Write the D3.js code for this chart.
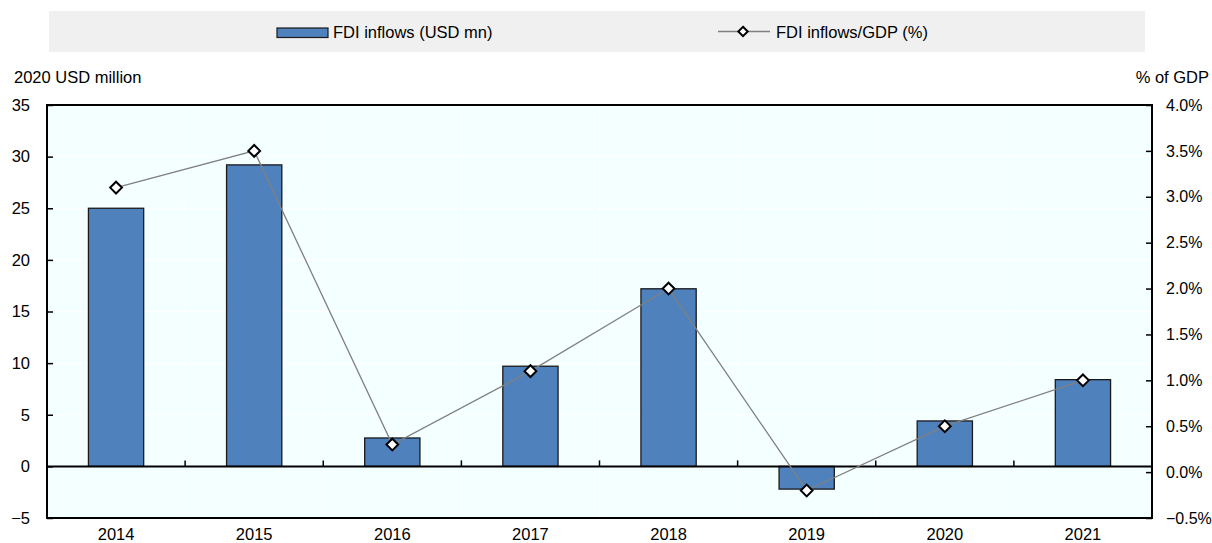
<!DOCTYPE html>
<html>
<head>
<meta charset="utf-8">
<script src="https://cdn.jsdelivr.net/npm/d3@7"></script>
<style>
  html, body { margin: 0; padding: 0; background: #fff; }
  svg text { font-family: "Liberation Sans", Arial, sans-serif; fill: #000; }
</style>
</head>
<body>
<svg id="chart" width="1212" height="543"></svg>
<script>
// FDI inflows, 2014-2021
const years = ["2014", "2015", "2016", "2017", "2018", "2019", "2020", "2021"];
const fdiUsd = [25.0, 29.2, 2.75, 9.7, 17.2, -2.2, 4.4, 8.4];      // 2020 USD million
const fdiGdp = [3.1, 3.5, 0.3, 1.1, 2.0, -0.2, 0.5, 1.0];           // % of GDP
const leftTicks = [-5, 0, 5, 10, 15, 20, 25, 30, 35];
const rightTicks = [-0.5, 0, 0.5, 1.0, 1.5, 2.0, 2.5, 3.0, 3.5, 4.0];
const seriesNames = ["FDI inflows (USD mn)", "FDI inflows/GDP (%)"];

const FONT = "Liberation Sans, Arial, sans-serif";
const FS = 16.5;

const svg = d3.select("#chart");
const plot = { left: 47, right: 1152, top: 105, bottom: 518 };

const x = d3.scaleBand().domain(years).range([plot.left, plot.right]).padding(0);
const yL = d3.scaleLinear().domain([-5, 35]).range([plot.bottom, plot.top]);
const yR = d3.scaleLinear().domain([-0.5, 4.0]).range([plot.bottom, plot.top]);

// legend strip
svg.append("rect").attr("x", 49).attr("y", 11).attr("width", 1096).attr("height", 41)
  .attr("fill", "#f0f0f0");
svg.append("rect").attr("x", 277).attr("y", 28).attr("width", 51).attr("height", 9.5)
  .attr("fill", "#4f81bd").attr("stroke", "#1a1a1a").attr("stroke-width", 1.2);
svg.append("text").attr("x", 333).attr("y", 38).attr("font-size", FS).text(seriesNames[0]);
svg.append("line").attr("x1", 718).attr("x2", 770).attr("y1", 31.5).attr("y2", 31.5)
  .attr("stroke", "#808080").attr("stroke-width", 1.3);
svg.append("path").attr("d", d3.symbol(d3.symbolDiamond2, 56)())
  .attr("transform", "translate(743,31.5)")
  .attr("fill", "#fff").attr("stroke", "#000").attr("stroke-width", 2);
svg.append("text").attr("x", 776).attr("y", 38).attr("font-size", FS).text(seriesNames[1]);

// plot background
svg.append("rect").attr("x", plot.left).attr("y", plot.top)
  .attr("width", plot.right - plot.left).attr("height", plot.bottom - plot.top)
  .attr("fill", "#f4ffff");

// white gridlines
svg.append("g").selectAll("line").data(leftTicks).join("line")
  .attr("x1", plot.left).attr("x2", plot.right)
  .attr("y1", d => yL(d)).attr("y2", d => yL(d))
  .attr("stroke", "#fff").attr("stroke-width", 1);
svg.append("g").selectAll("line").data(years.slice(1)).join("line")
  .attr("x1", d => x(d)).attr("x2", d => x(d))
  .attr("y1", plot.top).attr("y2", plot.bottom)
  .attr("stroke", "#fff").attr("stroke-width", 1);

// bars
const bw = x.bandwidth() * 0.4;
svg.append("g").selectAll("rect").data(years).join("rect")
  .attr("x", d => x(d) + x.bandwidth() / 2 - bw / 2)
  .attr("width", bw)
  .attr("y", (d, i) => Math.min(yL(fdiUsd[i]), yL(0)))
  .attr("height", (d, i) => Math.abs(yL(fdiUsd[i]) - yL(0)))
  .attr("fill", "#4f81bd").attr("stroke", "#1a1a1a").attr("stroke-width", 1.3);

// zero line with category ticks
svg.append("line").attr("x1", plot.left).attr("x2", plot.right)
  .attr("y1", yL(0)).attr("y2", yL(0)).attr("stroke", "#000").attr("stroke-width", 2);
svg.append("g").selectAll("line").data(years.slice(1)).join("line")
  .attr("x1", d => x(d)).attr("x2", d => x(d))
  .attr("y1", yL(0)).attr("y2", yL(0) - 6)
  .attr("stroke", "#000").attr("stroke-width", 1.5);

// ratio line
const line = d3.line().x((d, i) => x(years[i]) + x.bandwidth() / 2).y(d => yR(d));
svg.append("path").datum(fdiGdp).attr("d", line)
  .attr("fill", "none").attr("stroke", "#808080").attr("stroke-width", 1.3);
svg.append("g").selectAll("path").data(fdiGdp).join("path")
  .attr("d", d3.symbol(d3.symbolDiamond2, 88)())
  .attr("transform", (d, i) => `translate(${x(years[i]) + x.bandwidth() / 2},${yR(d)})`)
  .attr("fill", "#fff").attr("stroke", "#000").attr("stroke-width", 2);

// frame
svg.append("rect").attr("x", plot.left).attr("y", plot.top)
  .attr("width", plot.right - plot.left).attr("height", plot.bottom - plot.top)
  .attr("fill", "none").attr("stroke", "#000").attr("stroke-width", 2);

// left axis
const axL = svg.append("g").attr("transform", `translate(${plot.left},0)`)
  .call(d3.axisLeft(yL).tickValues(leftTicks).tickSize(-6).tickPadding(17));
axL.select(".domain").remove();
axL.selectAll(".tick line").attr("stroke", "#000").attr("stroke-width", 1.5);
axL.selectAll(".tick text").attr("font-size", FS).attr("font-family", FONT);

// right axis
const axR = svg.append("g").attr("transform", `translate(${plot.right},0)`)
  .call(d3.axisRight(yR).tickValues(rightTicks).tickSize(-6).tickPadding(14)
    .tickFormat(d => d3.format(".1f")(d) + "%"));
axR.select(".domain").remove();
axR.selectAll(".tick line").attr("stroke", "#000").attr("stroke-width", 1.5);
axR.selectAll(".tick text").attr("font-size", 16).attr("font-family", FONT);

// category labels
const axB = svg.append("g").attr("transform", `translate(0,${plot.bottom})`)
  .call(d3.axisBottom(x).tickSize(0).tickPadding(10));
axB.select(".domain").remove();
axB.selectAll(".tick text").attr("font-size", FS).attr("font-family", FONT);

// axis titles
svg.append("text").attr("x", 14).attr("y", 83).attr("font-size", FS).text("2020 USD million");
svg.append("text").attr("x", 1209).attr("y", 83).attr("font-size", FS)
  .attr("text-anchor", "end").text("% of GDP");
</script>
</body>
</html>
